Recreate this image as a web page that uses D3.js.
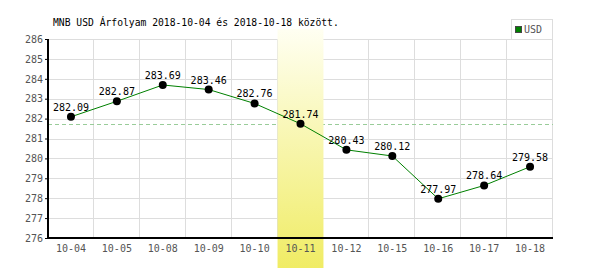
<!DOCTYPE html>
<html>
<head>
<meta charset="utf-8">
<script src="https://cdn.jsdelivr.net/npm/d3@7"></script>
<style>
  body { margin: 0; background: #fff; }
  text { font-family: "DejaVu Sans Mono", monospace; }
</style>
</head>
<body>
<div id="container"></div>
<script>
let w = 600;
let h = 270;
let plotLeft = 48, plotRight = 553, plotTop = 39, plotBottom = 238;

let dates = ["10-04", "10-05", "10-08", "10-09", "10-10", "10-11", "10-12", "10-15", "10-16", "10-17", "10-18"];
let rates = [282.09, 282.87, 283.69, 283.46, 282.76, 281.74, 280.43, 280.12, 277.97, 278.64, 279.58];
let yTicks = [276, 277, 278, 279, 280, 281, 282, 283, 284, 285, 286];
let highlightDate = "10-11";
let refValue = 281.74;

let viz = d3.select("#container")
  .append("svg")
  .attr("width", w)
  .attr("height", h);

let x = d3.scaleBand().domain(dates).range([plotLeft, plotRight]);
let y = d3.scaleLinear().domain([276, 286]).range([plotBottom, plotTop]);

let grad = viz.append("defs").append("linearGradient")
  .attr("id", "hl").attr("x1", 0).attr("y1", 0).attr("x2", 0).attr("y2", 1);
grad.append("stop").attr("offset", "0%").attr("stop-color", "#fffff2");
grad.append("stop").attr("offset", "100%").attr("stop-color", "#f0ec64");

// grid
viz.append("g").selectAll("line")
  .data(yTicks)
  .enter().append("line")
  .attr("x1", plotLeft).attr("x2", plotRight)
  .attr("y1", d => Math.round(y(d)) + 0.5).attr("y2", d => Math.round(y(d)) + 0.5)
  .attr("stroke", "#dddddd");

viz.append("g").selectAll("line")
  .data(dates.slice(1).concat(["end"]))
  .enter().append("line")
  .attr("x1", (d, i) => Math.round(plotLeft + (i + 1) * x.bandwidth()) - 0.5)
  .attr("x2", (d, i) => Math.round(plotLeft + (i + 1) * x.bandwidth()) - 0.5)
  .attr("y1", plotTop).attr("y2", plotBottom)
  .attr("stroke", "#dddddd");

// reference dashed line
viz.append("line")
  .attr("x1", plotLeft).attr("x2", plotRight)
  .attr("y1", Math.round(y(refValue)) + 0.5).attr("y2", Math.round(y(refValue)) + 0.5)
  .attr("stroke", "#99cc99")
  .attr("stroke-dasharray", "4,3");

// highlighted day, covers the grid
viz.append("rect")
  .attr("x", x(highlightDate))
  .attr("y", 29)
  .attr("width", x.bandwidth())
  .attr("height", 268 - 29)
  .attr("fill", "url(#hl)");

// axes
let yAxis = viz.append("g")
  .attr("transform", `translate(${plotLeft}, 0)`)
  .call(d3.axisLeft(y).tickValues(yTicks).tickSize(3).tickFormat(d3.format("d")));
yAxis.select(".domain").attr("stroke", "#000").attr("stroke-width", 2).attr("d", `M0,${plotTop}V${plotBottom}`);
yAxis.selectAll(".tick line").attr("stroke", "#000");
yAxis.selectAll("text").attr("fill", "#555").attr("font-size", "10px")
  .attr("font-family", "DejaVu Sans Mono, monospace").attr("x", -5);

let xAxis = viz.append("g")
  .attr("transform", `translate(0, ${plotBottom})`)
  .call(d3.axisBottom(x).tickSize(0));
xAxis.select(".domain").attr("stroke", "#000").attr("stroke-width", 2).attr("d", `M${plotLeft - 1},0H${plotRight}`);
xAxis.selectAll("text").attr("fill", "#555").attr("font-size", "10px")
  .attr("font-family", "DejaVu Sans Mono, monospace").attr("dy", "0").attr("y", 14);

// line and points
let cx = d => x(d) + x.bandwidth() / 2;
let line = d3.line()
  .x((d, i) => cx(dates[i]))
  .y(d => y(d));

viz.append("path")
  .datum(rates)
  .attr("d", line)
  .attr("fill", "none")
  .attr("stroke", "#008000")
  .attr("stroke-width", 1);

viz.selectAll(".pt")
  .data(rates)
  .enter().append("circle")
  .attr("class", "pt")
  .attr("cx", (d, i) => cx(dates[i]))
  .attr("cy", d => y(d))
  .attr("r", 4)
  .attr("fill", "#000");

viz.selectAll(".lbl")
  .data(rates)
  .enter().append("text")
  .attr("class", "lbl")
  .attr("x", (d, i) => cx(dates[i]))
  .attr("y", d => y(d) - 6)
  .attr("text-anchor", "middle")
  .attr("font-size", "10px")
  .attr("fill", "#000")
  .text(d => d.toFixed(2));

// title
viz.append("text")
  .attr("x", 53).attr("y", 26)
  .attr("font-size", "9.7px")
  .attr("fill", "#000")
  .text("MNB USD Árfolyam 2018-10-04 és 2018-10-18 között.");

// legend
let lg = viz.append("g");
lg.append("rect").attr("x", 511.5).attr("y", 19.5).attr("width", 41).attr("height", 20)
  .attr("fill", "#fff").attr("stroke", "#dddddd");
lg.append("rect").attr("x", 515.5).attr("y", 26.5).attr("width", 6).attr("height", 6)
  .attr("fill", "#008000").attr("stroke", "#444").attr("stroke-width", 1);
lg.append("text").attr("x", 524).attr("y", 33)
  .attr("font-size", "10px").attr("font-family", "DejaVu Sans, sans-serif")
  .attr("fill", "#555").text("USD");
</script>
</body>
</html>
